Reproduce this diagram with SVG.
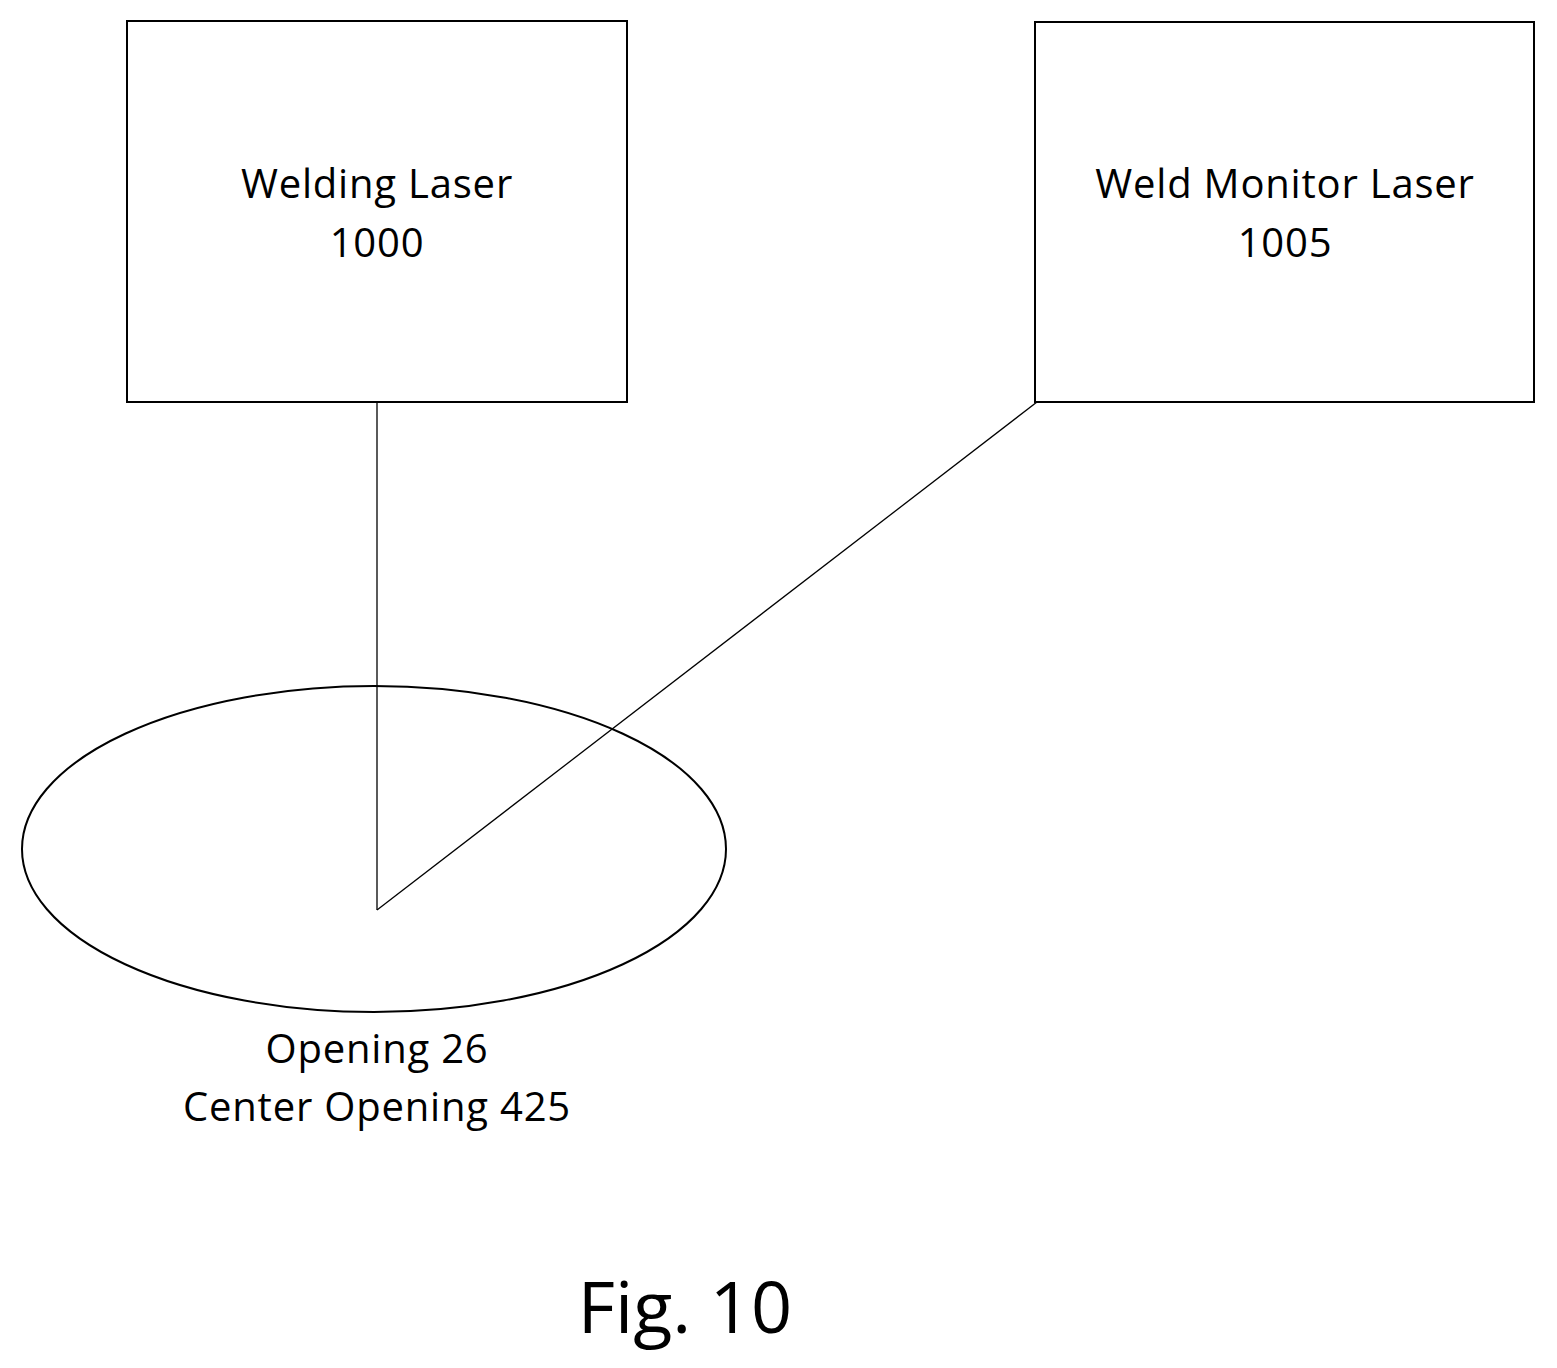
<svg xmlns="http://www.w3.org/2000/svg" width="1557" height="1368" viewBox="0 0 1557 1368">
<style>
.b{fill:#fff;stroke:#000;stroke-width:2}
.t{font-family:"Open Sans","Liberation Sans",sans-serif;font-size:40px;letter-spacing:0.8px;text-anchor:middle;fill:#000}
.c{stroke:#000;stroke-width:1.3;fill:none}
</style>
<rect width="1557" height="1368" fill="#fff"/>
<g id="welding-laser"><rect class="b" x="127" y="21" width="500" height="381"/>
<text class="t" x="377" y="198">Welding Laser</text><text class="t" x="377" y="257">1000</text></g>
<g id="weld-monitor-laser"><rect class="b" x="1035" y="22" width="499" height="380"/>
<text class="t" x="1285" y="198">Weld Monitor Laser</text><text class="t" x="1285" y="257">1005</text></g>
<g id="opening"><ellipse class="b" cx="374" cy="849" rx="352" ry="163"/>
<text class="t" x="377" y="1063">Opening 26</text><text class="t" x="377" y="1121">Center Opening 425</text></g>
<g id="connectors">
<line class="c" x1="377" y1="402" x2="377" y2="910"/>
<line class="c" x1="1037" y1="402" x2="377" y2="910"/>
</g>
<text x="685" y="1333" style="font-family:'Open Sans','Liberation Sans',sans-serif;font-size:72px;text-anchor:middle">Fig. 10</text>
</svg>
